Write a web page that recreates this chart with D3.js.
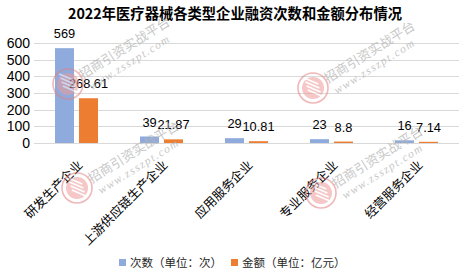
<!DOCTYPE html>
<html>
<head>
<meta charset="utf-8">
<script src="https://cdn.jsdelivr.net/npm/d3@7"></script>
<style>
  html, body { margin: 0; padding: 0; background: #fff; }
  svg { display: block; font-family: "Microsoft YaHei", "Noto Sans CJK SC", "Noto Sans", sans-serif; }
</style>
</head>
<body>
<svg id="chart" width="470" height="278"></svg>
<script>
// Financing of medical-device companies in 2022, by company type
const categories = ["研发生产企业", "上游供应链生产企业", "应用服务企业", "专业服务企业", "经营服务企业"];
const countValues = [569, 39, 29, 23, 16];           // 次数（单位：次）
const amountValues = [268.61, 21.87, 10.81, 8.8, 7.14]; // 金额（单位：亿元）
const countLabels = ["569", "39", "29", "23", "16"];
const amountLabels = ["268.61", "21.87", "10.81", "8.8", "7.14"];
const yTicks = [0, 100, 200, 300, 400, 500, 600];
const seriesNames = ["次数（单位：次）", "金额（单位：亿元）"];
const seriesColors = ["#8FAADC", "#ED7D31"];
const title = "2022年医疗器械各类型企业融资次数和金额分布情况";

const numFont = "\"Liberation Sans\", Arial, sans-serif";

const svg = d3.select("#chart");
const W = 470, H = 278;
svg.append("rect").attr("width", W).attr("height", H).attr("fill", "#fff");

const x = d3.scaleBand().domain(categories).range([34, 459]).paddingInner(0).paddingOuter(0);
const y = d3.scaleLinear().domain([0, 600]).range([143, 43]);
const xSeries = d3.scaleBand().domain([0, 1]).range([-21.5, 21.5]).paddingInner(5 / 24);

// title
svg.append("text")
  .attr("x", 235).attr("y", 19)
  .attr("text-anchor", "middle")
  .attr("font-size", 14.3).attr("font-weight", "bold").attr("fill", "#000")
  .text(title);

// gridlines
svg.append("g").selectAll("line").data(yTicks).join("line")
  .attr("x1", 34).attr("x2", 459)
  .attr("y1", d => Math.round(y(d)) + 0.5).attr("y2", d => Math.round(y(d)) + 0.5)
  .attr("stroke", "#D9D9D9").attr("stroke-width", 1);

// y axis labels
const yAxis = d3.axisLeft(y).tickValues(yTicks).tickSize(0).tickPadding(4);
const gy = svg.append("g").attr("transform", "translate(34,0)").call(yAxis);
gy.select(".domain").remove();
gy.selectAll("text").attr("font-size", 14).attr("fill", "#000")
  .attr("font-family", numFont);

// bars
const seriesData = [countValues, amountValues];
const seriesLabels = [countLabels, amountLabels];
seriesData.forEach((vals, si) => {
  const g = svg.append("g");
  g.selectAll("rect").data(vals).join("rect")
    .attr("x", (d, i) => x(categories[i]) + x.bandwidth() / 2 + xSeries(si))
    .attr("y", d => y(d))
    .attr("width", xSeries.bandwidth())
    .attr("height", d => y(0) - y(d))
    .attr("fill", seriesColors[si]);
  g.selectAll("text").data(vals).join("text")
    .attr("x", (d, i) => x(categories[i]) + x.bandwidth() / 2 + xSeries(si) + xSeries.bandwidth() / 2)
    .attr("y", d => y(d) - 10)
    .attr("text-anchor", "middle")
    .attr("font-size", 12.8).attr("fill", "#000")
    .attr("font-family", numFont)
    .text((d, i) => seriesLabels[si][i]);
});

// category labels, rotated
const gx = svg.append("g");
gx.selectAll("text").data(categories).join("text")
  .attr("transform", d => `translate(${x(d) + x.bandwidth() / 2 + 3},162) rotate(-45)`)
  .attr("text-anchor", "end")
  .attr("dominant-baseline", "central")
  .attr("font-size", 12.6).attr("fill", "#000")
  .text(d => d);

// legend
const legendItems = [
  { name: seriesNames[0], color: seriesColors[0], x: 119 },
  { name: seriesNames[1], color: seriesColors[1], x: 231 }
];
const lg = svg.append("g");
legendItems.forEach(it => {
  lg.append("rect").attr("x", it.x).attr("y", 259).attr("width", 7).attr("height", 7).attr("fill", it.color);
  lg.append("text").attr("x", it.x + 11).attr("y", 267)
    .attr("font-size", 11.5).attr("fill", "#262626").text(it.name);
});

// site watermark stamps
const stamps = [[68, 84], [313, 88], [77, 188], [321, 193]];
const wm = svg.append("g").attr("pointer-events", "none");
stamps.forEach(([sx, sy]) => {
  const s = wm.append("g").attr("transform", `translate(${sx},${sy})`);
  const logo = s.append("g").attr("opacity", 0.55);
  logo.append("circle").attr("r", 15).attr("fill", "none").attr("stroke", "#E57F7F").attr("stroke-width", 1.6);
  logo.append("circle").attr("r", 11).attr("fill", "#EE9A9A");
  [-6, -2, 2, 6].forEach(o => {
    logo.append("line")
      .attr("x1", -7 + o * 0.3).attr("y1", o - 4).attr("x2", 7 + o * 0.3).attr("y2", o + 2)
      .attr("stroke", "#fff").attr("stroke-width", 1.4);
  });
  const t = s.append("g").attr("transform", "rotate(-32)").attr("opacity", 0.75);
  t.append("text").attr("x", 15).attr("y", 4)
    .attr("font-size", 13).attr("fill", "#B5B5B5").text("招商引资实战平台");
  t.append("text").attr("x", 17).attr("y", 18)
    .attr("font-size", 11.5).attr("font-style", "italic")
    .attr("font-family", "\"Liberation Serif\", \"DejaVu Serif\", serif")
    .attr("letter-spacing", 1.4)
    .attr("fill", "#B5B5B5").text("www.zsszpt.com");
});
</script>
</body>
</html>
